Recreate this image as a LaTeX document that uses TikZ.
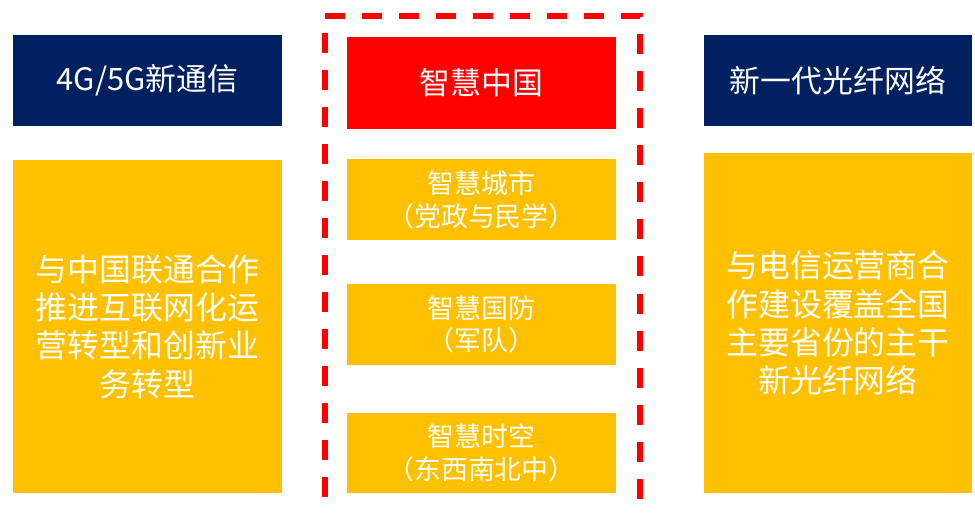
\documentclass[tikz,border=0pt]{standalone}
\usepackage{fontspec}
\setmainfont{Noto Sans CJK SC}
\definecolor{navyc}{HTML}{002060}
\definecolor{yellowc}{HTML}{FFC000}
\definecolor{redc}{HTML}{FF0000}
\begin{document}
\begin{tikzpicture}[x=1bp,y=-1bp,
  box/.style={rectangle, inner sep=0pt, text=white, align=center},
  titlefont/.style={font=\fontsize{31}{37}\selectfont},
  bigfont/.style={font=\fontsize{32}{38.5}\selectfont},
  midfont/.style={font=\fontsize{27}{33}\selectfont},
  frame/.style={rectangle, inner sep=0pt, draw=redc, line width=6bp, dash pattern=on 20bp off 17bp}]
\useasboundingbox (0,0) rectangle (975,513);
\node[frame, minimum width=315.5bp, minimum height=499.5bp] (fr) at (482.25,266.25) {};
\node[box, fill=navyc, minimum width=269bp, minimum height=91bp, titlefont] (t1) at (147.5,80.5) {4G/5G新通信};
\node[box, fill=yellowc, minimum width=269bp, minimum height=333bp, bigfont] (b1) at (147.5,326.5) {与中国联通合作\\推进互联网化运\\营转型和创新业\\务转型};
\node[box, fill=redc, minimum width=269bp, minimum height=92bp, titlefont] (t2) at (481.5,83) {智慧中国};
\node[box, fill=yellowc, minimum width=269bp, minimum height=81bp, midfont] (c1) at (481.5,199.5) {智慧城市\\（党政与民学）};
\node[box, fill=yellowc, minimum width=269bp, minimum height=81bp, midfont] (c2) at (481.5,324.5) {智慧国防\\（军队）};
\node[box, fill=yellowc, minimum width=269bp, minimum height=80bp, midfont] (c3) at (481.5,453) {智慧时空\\（东西南北中）};
\node[box, fill=navyc, minimum width=268bp, minimum height=91bp, titlefont] (t3) at (838,80.5) {新一代光纤网络};
\node[box, fill=yellowc, minimum width=268bp, minimum height=340bp, bigfont] (b3) at (838,323) {与电信运营商合\\作建设覆盖全国\\主要省份的主干\\新光纤网络};
\end{tikzpicture}
\end{document}
